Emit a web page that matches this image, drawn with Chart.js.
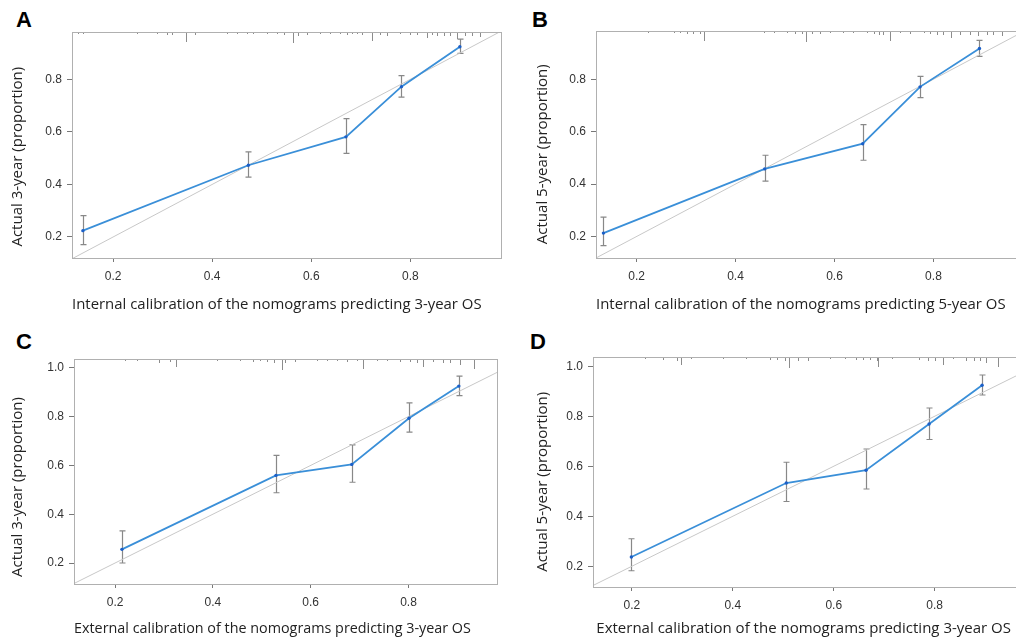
<!DOCTYPE html>
<html>
<head>
<meta charset="utf-8">
<script src="https://cdn.jsdelivr.net/npm/chart.js@4.4.1/dist/chart.umd.min.js"></script>
<style>
html, body { margin: 0; padding: 0; background: #fff; width: 1016px; height: 644px; overflow: hidden; position: relative; }
canvas { position: absolute; }
.tag { position: absolute; font: bold 22px "Liberation Sans", Arial, sans-serif; line-height: 22px; color: #000; }
</style>
</head>
<body>
<div class="tag" style="left:16px;top:9px">A</div>
<div class="tag" style="left:532px;top:9px">B</div>
<div class="tag" style="left:16px;top:331px">C</div>
<div class="tag" style="left:530px;top:331px">D</div>
<canvas id="cA" width="508" height="322" style="left:0;top:0"></canvas>
<canvas id="cB" width="530" height="322" style="left:508px;top:0"></canvas>
<canvas id="cC" width="508" height="322" style="left:0;top:322px"></canvas>
<canvas id="cD" width="530" height="322" style="left:508px;top:322px"></canvas>
<script>
// tick labels
const xTicks = [0.2, 0.4, 0.6, 0.8]
const yTicksAB = [0.2, 0.4, 0.6, 0.8]
const yTicksCD = [0.2, 0.4, 0.6, 0.8, 1.0]

// A: internal, 3-year
const aPred = [0.139, 0.473, 0.670, 0.782, 0.900]
const aObs  = [0.224, 0.473, 0.581, 0.772, 0.924]
const aLo   = [0.171, 0.428, 0.518, 0.732, 0.899]
const aHi   = [0.281, 0.524, 0.650, 0.814, 0.953]
const aRugX = [0.130,0.140,0.248,0.288,0.308,0.318,0.347,0.366,0.430,0.450,0.470,0.483,0.510,0.531,0.544,0.563,0.574,0.591,0.618,0.638,0.659,0.672,0.682,0.692,0.702,0.723,0.739,0.753,0.780,0.800,0.813,0.834,0.844,0.854,0.867,0.881,0.894,0.911,0.925,0.941]
const aRugN = [1,1,1,1,2,2,9,2,1,1,1,1,1,1,2,10,3,2,1,1,1,2,1,1,2,8,2,3,1,2,2,5,2,3,3,3,6,3,3,4]

// B: internal, 5-year
const bPred = [0.133, 0.459, 0.657, 0.773, 0.893]
const bObs  = [0.213, 0.458, 0.554, 0.771, 0.917]
const bLo   = [0.165, 0.411, 0.491, 0.730, 0.887]
const bHi   = [0.274, 0.510, 0.627, 0.811, 0.948]
const bRugX = [0.224,0.275,0.288,0.302,0.315,0.329,0.337,0.457,0.477,0.504,0.521,0.534,0.543,0.554,0.571,0.591,0.618,0.638,0.665,0.679,0.689,0.699,0.713,0.733,0.753,0.780,0.793,0.807,0.820,0.835,0.854,0.874,0.891,0.908,0.921,0.938]
const bRugN = [1,1,1,2,2,2,9,1,1,1,2,2,10,2,2,1,1,1,1,2,3,3,9,1,2,1,2,3,3,6,3,3,4,3,3,4]

// C: external, 3-year
const cPred = [0.214, 0.529, 0.684, 0.801, 0.903]
const cObs  = [0.256, 0.559, 0.604, 0.793, 0.925]
const cLo   = [0.200, 0.488, 0.531, 0.736, 0.886]
const cHi   = [0.332, 0.641, 0.684, 0.856, 0.966]
const cRugX = [0.220,0.244,0.289,0.312,0.325,0.408,0.456,0.483,0.497,0.510,0.524,0.541,0.548,0.568,0.612,0.633,0.653,0.674,0.694,0.708,0.735,0.756,0.783,0.803,0.817,0.830,0.851,0.871,0.885,0.906,0.933]
const cRugN = [1,1,3,2,7,1,1,2,1,2,3,10,3,2,1,1,1,2,1,9,1,1,2,2,3,7,2,3,3,5,9]

// D: external, 5-year
const dPred = [0.199, 0.506, 0.664, 0.789, 0.894]
const dObs  = [0.237, 0.533, 0.584, 0.769, 0.924]
const dLo   = [0.182, 0.459, 0.509, 0.707, 0.885]
const dHi   = [0.310, 0.616, 0.669, 0.833, 0.965]
const dRugX = [0.226,0.262,0.290,0.298,0.318,0.381,0.427,0.474,0.487,0.503,0.512,0.530,0.549,0.592,0.622,0.645,0.658,0.672,0.685,0.688,0.715,0.768,0.787,0.801,0.817,0.837,0.863,0.877,0.890,0.902,0.926]
const dRugN = [1,2,3,7,1,1,1,2,2,3,10,3,3,1,1,2,2,2,3,9,1,2,3,3,7,1,3,3,3,5,9]

// box round the plot, error bars and the rug at the top
const calibPlugin = {
  id: 'calib',
  beforeDatasetsDraw(chart, args, opts) {
    const {ctx, scales: {x, y}} = chart
    ctx.save()
    ctx.strokeStyle = '#888'
    ctx.lineWidth = 1.2
    opts.pred.forEach((p, i) => {
      const px = Math.round(x.getPixelForValue(p)) + 0.5
      const y1 = y.getPixelForValue(opts.lo[i])
      const y2 = y.getPixelForValue(opts.hi[i])
      ctx.beginPath()
      ctx.moveTo(px, y1); ctx.lineTo(px, y2)
      ctx.moveTo(px - 3, y1); ctx.lineTo(px + 3, y1)
      ctx.moveTo(px - 3, y2); ctx.lineTo(px + 3, y2)
      ctx.stroke()
    })
    ctx.restore()
  },
  afterDatasetsDraw(chart, args, opts) {
    const {ctx, chartArea: a, scales: {x}} = chart
    ctx.save()
    ctx.strokeStyle = '#8c8c8c'
    ctx.lineWidth = 1
    opts.rugX.forEach((v, i) => {
      const px = Math.round(x.getPixelForValue(v)) + 0.5
      ctx.beginPath()
      ctx.moveTo(px, a.top)
      ctx.lineTo(px, a.top + opts.rugN[i] + 1)
      ctx.stroke()
    })
    ctx.strokeStyle = '#b0b0b0'
    ctx.strokeRect(Math.round(a.left) + 0.5, Math.round(a.top) + 0.5, Math.round(a.right - a.left), Math.round(a.bottom - a.top))
    ctx.restore()
  }
}

// axis titles sit a little off the plot centre in the original; trailing spaces nudge them
const nudge = (t, n) => t + ' '.repeat(n)

function drawPanel(id, p) {
  const pts = p.pred.map((v, i) => ({x: v, y: p.obs[i]}))
  new Chart(document.getElementById(id), {
    type: 'scatter',
    data: {
      datasets: [
        {data: [{x: 0, y: 0}, {x: 1.2, y: 1.2}], showLine: true, borderColor: '#c8c8c8', borderWidth: 1, pointRadius: 0, order: 2},
        {data: pts, showLine: true, borderColor: '#3a8fd8', borderWidth: 1.8, pointRadius: 1.7, pointBorderWidth: 0, pointBackgroundColor: '#1b5fc8', order: 1}
      ]
    },
    options: {
      responsive: false,
      animation: false,
      layout: {padding: p.pad},
      plugins: {
        legend: {display: false},
        tooltip: {enabled: false},
        calib: {pred: p.pred, lo: p.lo, hi: p.hi, rugX: p.rugX, rugN: p.rugN}
      },
      scales: {
        x: {
          type: 'linear', min: p.xr[0], max: p.xr[1],
          afterBuildTicks: s => { s.ticks = xTicks.map(v => ({value: v})) },
          afterFit: s => { s.height = p.xh },
          border: {display: false},
          grid: {drawOnChartArea: false, tickLength: 4, color: '#777'},
          ticks: {padding: 7, color: '#333', font: {family: 'Liberation Sans', size: 12}, callback: v => v.toFixed(1)},
          title: {display: true, text: nudge(p.xTitle, p.xs), color: '#222', padding: 0, font: {family: 'Open Sans', size: 15}}
        },
        y: {
          type: 'linear', min: p.yr[0], max: p.yr[1],
          afterBuildTicks: s => { s.ticks = p.yTicks.map(v => ({value: v})) },
          afterFit: s => { s.width = p.yw },
          border: {display: false},
          grid: {drawOnChartArea: false, tickLength: 5, color: '#777'},
          ticks: {padding: 5, color: '#333', font: {family: 'Liberation Sans', size: 12}, callback: v => v.toFixed(1)},
          title: {display: true, text: nudge(p.yTitle, p.ys), color: '#222', padding: {top: 4, bottom: 0}, font: {family: 'Open Sans', size: 15}}
        }
      }
    },
    plugins: [calibPlugin]
  })
}

drawPanel('cA', {pred: aPred, obs: aObs, lo: aLo, hi: aHi, rugX: aRugX, rugN: aRugN,
  xr: [0.117, 0.983], yr: [0.12, 0.98], yTicks: yTicksAB,
  pad: {left: 5, top: 32, right: 7, bottom: 8}, yw: 67, xh: 56, xs: 5, ys: 6,
  xTitle: 'Internal calibration of the nomograms predicting 3-year OS', yTitle: 'Actual 3-year (proportion)'})

drawPanel('cB', {pred: bPred, obs: bObs, lo: bLo, hi: bHi, rugX: bRugX, rugN: bRugN,
  xr: [0.118, 0.985], yr: [0.118, 0.984], yTicks: yTicksAB,
  pad: {left: 22, top: 31, right: 13, bottom: 8}, yw: 66, xh: 56, xs: 5, ys: 5,
  xTitle: 'Internal calibration of the nomograms predicting 5-year OS', yTitle: 'Actual 5-year (proportion)'})

drawPanel('cC', {pred: cPred, obs: cObs, lo: cLo, hi: cHi, rugX: cRugX, rugN: cRugN,
  xr: [0.116, 0.981], yr: [0.114, 1.036], yTicks: yTicksCD,
  pad: {left: 5, top: 37, right: 11, bottom: 6}, yw: 69, xh: 54, xs: 7, ys: 8,
  xTitle: 'External calibration of the nomograms predicting 3-year OS', yTitle: 'Actual 3-year (proportion)'})

drawPanel('cD', {pred: dPred, obs: dObs, lo: dLo, hi: dHi, rugX: dRugX, rugN: dRugN,
  xr: [0.123, 0.981], yr: [0.117, 1.037], yTicks: yTicksCD,
  pad: {left: 22, top: 35, right: 12, bottom: 6}, yw: 63, xh: 51, xs: 3, ys: 5,
  xTitle: 'External calibration of the nomograms predicting 3-year OS', yTitle: 'Actual 5-year (proportion)'})
</script>
</body>
</html>
